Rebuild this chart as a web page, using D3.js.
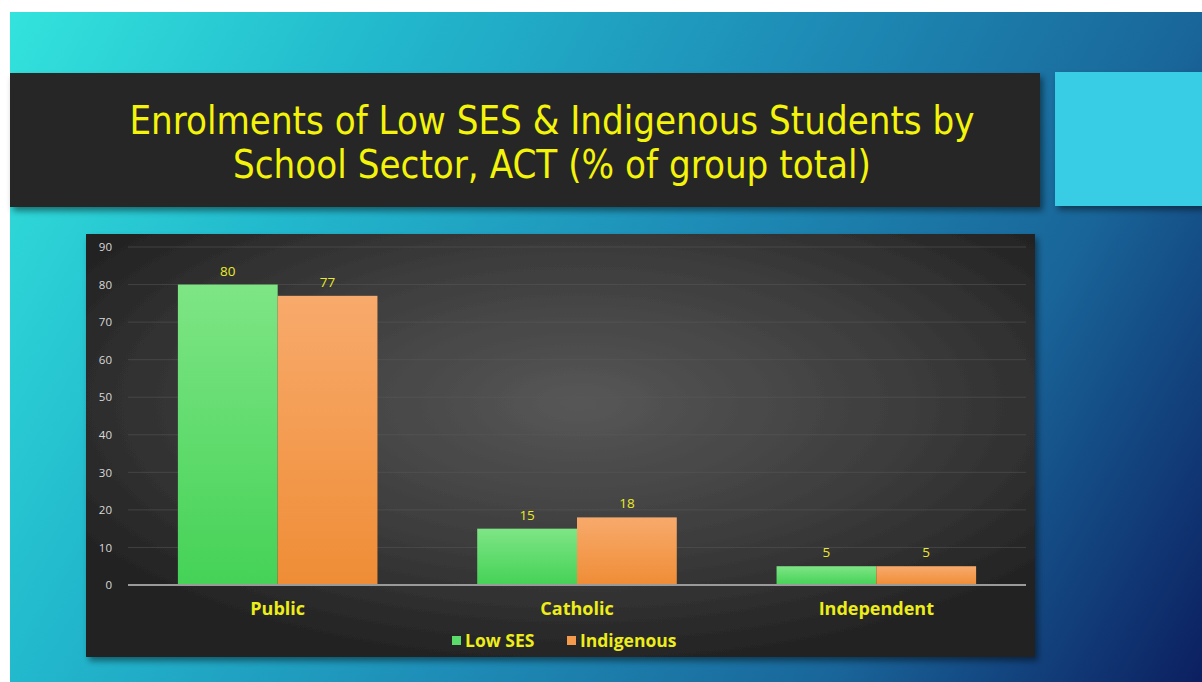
<!DOCTYPE html>
<html>
<head>
<meta charset="utf-8">
<script src="https://cdn.jsdelivr.net/npm/d3@7"></script>
<style>
  html, body { margin: 0; padding: 0; background: #ffffff; }
  svg { display: block; }
</style>
</head>
<body>
<svg id="slide" width="1202" height="682"></svg>
<script>
// Enrolment shares (% of group total) by school sector, ACT
const categories = ["Public", "Catholic", "Independent"];
const seriesNames = ["Low SES", "Indigenous"];
const lowSES = [80, 15, 5];
const indigenous = [77, 18, 5];
const yTicks = [0, 10, 20, 30, 40, 50, 60, 70, 80, 90];
const titleLines = [
  "Enrolments of Low SES & Indigenous Students by",
  "School Sector, ACT (% of group total)"
];

const svg = d3.select("#slide");
const defs = svg.append("defs");

// Slide background gradient: turquoise top-left to navy bottom-right
const bg = defs.append("linearGradient").attr("id", "bgGrad")
  .attr("gradientUnits", "userSpaceOnUse")
  .attr("x1", 10).attr("y1", 12).attr("x2", 1202).attr("y2", 682);
[[0, "#33e3dc"], [0.24, "#22b9cd"], [0.5, "#1e8fb8"], [0.76, "#19669a"], [1, "#0c1f60"]]
  .forEach(([o, c]) => bg.append("stop").attr("offset", o).attr("stop-color", c));

// Chart panel: dark with lighter centre
const panel = defs.append("radialGradient").attr("id", "panelGrad")
  .attr("cx", "0.52").attr("cy", "0.4").attr("r", "0.62");
panel.append("stop").attr("offset", 0).attr("stop-color", "#575757");
panel.append("stop").attr("offset", 0.55).attr("stop-color", "#3d3d3d");
panel.append("stop").attr("offset", 1).attr("stop-color", "#232323");

// Bar fills
const gGreen = defs.append("linearGradient").attr("id", "greenGrad")
  .attr("x1", 0).attr("y1", 0).attr("x2", 0).attr("y2", 1);
gGreen.append("stop").attr("offset", 0).attr("stop-color", "#7ee585");
gGreen.append("stop").attr("offset", 1).attr("stop-color", "#45d257");
const gOrange = defs.append("linearGradient").attr("id", "orangeGrad")
  .attr("x1", 0).attr("y1", 0).attr("x2", 0).attr("y2", 1);
gOrange.append("stop").attr("offset", 0).attr("stop-color", "#f8aa6c");
gOrange.append("stop").attr("offset", 1).attr("stop-color", "#ef8d36");

const shadow = defs.append("filter").attr("id", "shadow")
  .attr("x", "-5%").attr("y", "-10%").attr("width", "115%").attr("height", "130%");
shadow.append("feDropShadow").attr("dx", 3).attr("dy", 4).attr("stdDeviation", 3)
  .attr("flood-color", "#000").attr("flood-opacity", 0.45);

// Slide
svg.append("rect").attr("x", 10).attr("y", 12).attr("width", 1192).attr("height", 670)
  .attr("fill", "url(#bgGrad)");

// Title block
svg.append("rect").attr("x", 10).attr("y", 73).attr("width", 1030).attr("height", 134)
  .attr("fill", "#262626").attr("filter", "url(#shadow)");
svg.append("rect").attr("x", 1055).attr("y", 72).attr("width", 147).attr("height", 134)
  .attr("fill", "#38cce5").attr("filter", "url(#shadow)");

const titleWidths = [845, 638];
svg.append("g").selectAll("text").data(titleLines).join("text")
  .attr("x", 552).attr("y", (d, i) => 134 + i * 44)
  .attr("text-anchor", "middle")
  .attr("font-family", "'DejaVu Sans Condensed', 'DejaVu Sans', sans-serif")
  .attr("font-size", 39)
  .attr("fill", "#f4f40a")
  .attr("textLength", (d, i) => titleWidths[i])
  .attr("lengthAdjust", "spacingAndGlyphs")
  .text(d => d);

// Chart panel
svg.append("rect").attr("x", 86).attr("y", 234).attr("width", 949).attr("height", 423)
  .attr("fill", "url(#panelGrad)").attr("filter", "url(#shadow)");

// Scales
const plot = { left: 128, right: 1026, top: 247, bottom: 585 };
const x = d3.scaleBand().domain(categories).range([plot.left, plot.right]).paddingInner(0).paddingOuter(0);
const y = d3.scaleLinear().domain([0, 90]).range([plot.bottom, plot.top]);
const groupFrac = 2 / 3;
const xs = d3.scaleBand().domain(seriesNames)
  .range([0, x.bandwidth() * groupFrac]);
const groupOffset = x.bandwidth() * (1 - groupFrac) / 2;

// Gridlines
svg.append("g").selectAll("line").data(yTicks.filter(t => t > 0)).join("line")
  .attr("x1", plot.left).attr("x2", plot.right)
  .attr("y1", d => y(d)).attr("y2", d => y(d))
  .attr("stroke", "#5a5a5a").attr("stroke-width", 1).attr("opacity", 0.5);

// Y axis labels
const yAxis = svg.append("g").attr("transform", `translate(${plot.left},0)`)
  .call(d3.axisLeft(y).tickValues(yTicks).tickSize(0).tickPadding(16));
yAxis.select(".domain").remove();
yAxis.selectAll("text")
  .attr("fill", "#d9d9d9")
  .attr("font-family", "'Open Sans', sans-serif")
  .attr("font-size", 11.5);

// Bars
const rows = categories.map((c, i) => ({ cat: c, values: [lowSES[i], indigenous[i]] }));
const fills = ["url(#greenGrad)", "url(#orangeGrad)"];
const groups = svg.append("g").selectAll("g").data(rows).join("g")
  .attr("transform", d => `translate(${x(d.cat) + groupOffset},0)`);

groups.selectAll("rect").data(d => d.values.map((v, j) => ({ s: seriesNames[j], v, j })))
  .join("rect")
  .attr("x", d => xs(d.s))
  .attr("width", xs.bandwidth())
  .attr("y", d => y(d.v))
  .attr("height", d => y(0) - y(d.v))
  .attr("fill", d => fills[d.j]);

// Value labels
groups.selectAll("text").data(d => d.values.map((v, j) => ({ s: seriesNames[j], v })))
  .join("text")
  .attr("x", d => xs(d.s) + xs.bandwidth() / 2)
  .attr("y", d => y(d.v) - 9)
  .attr("text-anchor", "middle")
  .attr("font-family", "'Open Sans', sans-serif")
  .attr("font-size", 13.5)
  .attr("fill", "#eaea2a")
  .text(d => d.v);

// Baseline
svg.append("line")
  .attr("x1", plot.left).attr("x2", plot.right)
  .attr("y1", y(0)).attr("y2", y(0))
  .attr("stroke", "#9a9a9a").attr("stroke-width", 2);

// Category labels
const xAxis = svg.append("g").attr("transform", `translate(0,${plot.bottom})`)
  .call(d3.axisBottom(x).tickSize(0).tickPadding(17));
xAxis.select(".domain").remove();
xAxis.selectAll("text")
  .attr("fill", "#eded1a")
  .attr("font-family", "'Open Sans', sans-serif")
  .attr("font-weight", "bold")
  .attr("font-size", 18);

// Legend
const legend = svg.append("g").attr("transform", "translate(452,641)");
const legendItems = [
  { name: seriesNames[0], color: "#5bdc6a", x: 0 },
  { name: seriesNames[1], color: "#f39a4c", x: 115 }
];
const li = legend.selectAll("g").data(legendItems).join("g")
  .attr("transform", d => `translate(${d.x},0)`);
li.append("rect").attr("x", 0).attr("y", -5).attr("width", 9).attr("height", 9)
  .attr("fill", d => d.color);
li.append("text").attr("x", 13).attr("y", 0).attr("dy", "0.35em")
  .attr("font-family", "'Open Sans', sans-serif")
  .attr("font-weight", "bold")
  .attr("font-size", 17.5)
  .attr("fill", "#eded1a")
  .text(d => d.name);
</script>
</body>
</html>
